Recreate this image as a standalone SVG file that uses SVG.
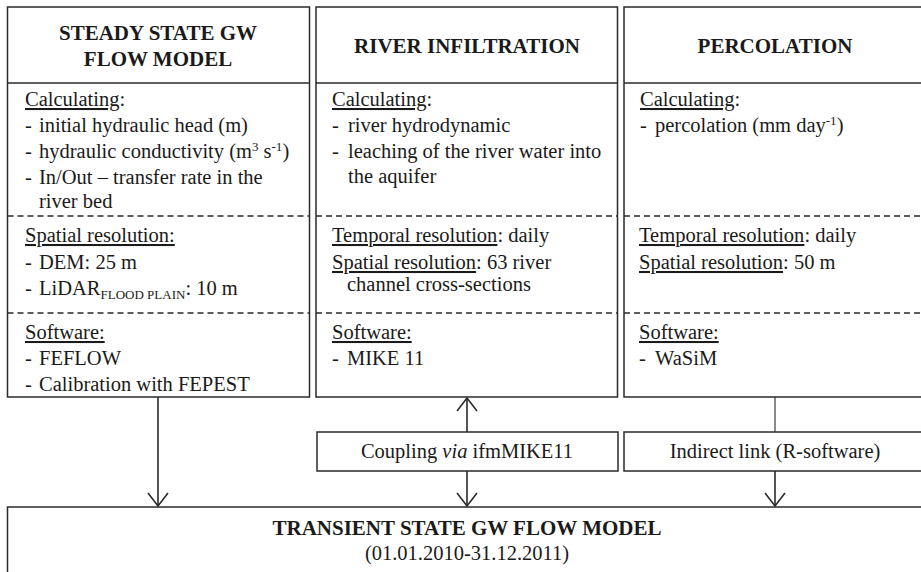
<svg xmlns="http://www.w3.org/2000/svg" width="921" height="572" viewBox="0 0 921 572">
<style>
.box{fill:#fff;stroke:#2a2a2a;stroke-width:1.5}
.sep{stroke:#2a2a2a;stroke-width:1.5}
.dash{stroke:#2a2a2a;stroke-width:1.3;stroke-dasharray:6,4}
text{font-family:"Liberation Serif","Times New Roman",serif;fill:#1a1a1a}
.h{font-size:21px;font-weight:bold;text-anchor:middle}
.b{font-size:20.5px}
.c{text-anchor:middle}
.u{text-decoration:underline}
.sup{font-size:13px}
.conn{stroke:#2a2a2a;stroke-width:1.6;fill:none}
.thin{stroke:#2a2a2a;stroke-width:1.1;fill:none}
</style>
<defs>
<marker id="arr" markerUnits="userSpaceOnUse" viewBox="-15 -12 17 24" refX="0" refY="0" markerWidth="17" markerHeight="24" orient="auto">
<path d="M-13,-10 L0,0 L-13,10" fill="none" stroke="#2a2a2a" stroke-width="1.6"/>
</marker>
</defs>

<g id="steady">
<rect class="box" x="7.5" y="7" width="302" height="390"/>
<line class="sep" x1="7.5" y1="83" x2="309.5" y2="83"/>
<line class="dash" x1="7.5" y1="216" x2="309.5" y2="216"/>
<line class="dash" x1="7.5" y1="313" x2="309.5" y2="313"/>
<text class="h" x="158" y="40">STEADY STATE GW</text>
<text class="h" x="158" y="66">FLOW MODEL</text>
<text class="b" x="25" y="106"><tspan class="u">Calculating</tspan>:</text>
<text class="b" y="132"><tspan x="25">-</tspan><tspan x="39">initial hydraulic head (m)</tspan></text>
<text class="b" y="158"><tspan x="25">-</tspan><tspan x="39">hydraulic conductivity (m</tspan><tspan class="sup" dy="-7">3</tspan><tspan dy="7"> s</tspan><tspan class="sup" dy="-7">-1</tspan><tspan dy="7">)</tspan></text>
<text class="b" y="184"><tspan x="25">-</tspan><tspan x="39">In/Out – transfer rate in the</tspan></text>
<text class="b" x="39" y="208">river bed</text>
<text class="b" x="25" y="242"><tspan class="u">Spatial resolution:</tspan></text>
<text class="b" y="269"><tspan x="25">-</tspan><tspan x="39">DEM: 25 m</tspan></text>
<text class="b" y="295"><tspan x="25">-</tspan><tspan x="39">LiDAR</tspan><tspan class="sup" dy="4">FLOOD PLAIN</tspan><tspan dy="-4">: 10 m</tspan></text>
<text class="b" x="25" y="339"><tspan class="u">Software:</tspan></text>
<text class="b" y="365"><tspan x="25">-</tspan><tspan x="39">FEFLOW</tspan></text>
<text class="b" y="391"><tspan x="25">-</tspan><tspan x="39">Calibration with FEPEST</tspan></text>
</g>

<g id="river">
<rect class="box" x="316" y="7" width="301.5" height="390"/>
<line class="sep" x1="316" y1="83" x2="617.5" y2="83"/>
<line class="dash" x1="316" y1="216" x2="617.5" y2="216"/>
<line class="dash" x1="316" y1="313" x2="617.5" y2="313"/>
<text class="h" x="467" y="53">RIVER INFILTRATION</text>
<text class="b" x="332" y="106"><tspan class="u">Calculating</tspan>:</text>
<text class="b" y="132"><tspan x="332">-</tspan><tspan x="348">river hydrodynamic</tspan></text>
<text class="b" y="158"><tspan x="332">-</tspan><tspan x="348">leaching of the river water into</tspan></text>
<text class="b" x="348" y="183">the aquifer</text>
<text class="b" x="332" y="242"><tspan class="u">Temporal resolution</tspan>: daily</text>
<text class="b" x="332" y="269"><tspan class="u">Spatial resolution</tspan>: 63 river</text>
<text class="b" x="347" y="291">channel cross-sections</text>
<text class="b" x="332" y="339"><tspan class="u">Software:</tspan></text>
<text class="b" y="365"><tspan x="332">-</tspan><tspan x="347">MIKE 11</tspan></text>
</g>

<g id="percolation">
<rect class="box" x="624" y="7" width="310" height="390"/>
<line class="sep" x1="624" y1="83" x2="934" y2="83"/>
<line class="dash" x1="624" y1="216" x2="934" y2="216"/>
<line class="dash" x1="624" y1="313" x2="934" y2="313"/>
<text class="h" x="775" y="53">PERCOLATION</text>
<text class="b" x="640" y="106"><tspan class="u">Calculating</tspan>:</text>
<text class="b" y="132"><tspan x="640">-</tspan><tspan x="655">percolation (mm day</tspan><tspan class="sup" dy="-7">-1</tspan><tspan dy="7">)</tspan></text>
<text class="b" x="639" y="242"><tspan class="u">Temporal resolution</tspan>: daily</text>
<text class="b" x="639" y="269"><tspan class="u">Spatial resolution</tspan>: 50 m</text>
<text class="b" x="639" y="339"><tspan class="u">Software:</tspan></text>
<text class="b" y="365"><tspan x="639">-</tspan><tspan x="655">WaSiM</tspan></text>
</g>

<g id="coupling">
<rect class="box" x="317" y="432" width="301" height="39"/>
<text class="b c" x="467" y="458">Coupling <tspan font-style="italic">via</tspan> ifmMIKE11</text>
</g>

<g id="indirect">
<rect class="box" x="624" y="432" width="310" height="39"/>
<text class="b c" x="775" y="458">Indirect link (R-software)</text>
</g>

<g id="transient">
<rect class="box" x="7.5" y="507" width="930" height="100"/>
<text class="h" x="467" y="535">TRANSIENT STATE GW FLOW MODEL</text>
<text class="b c" x="467" y="560">(01.01.2010-31.12.2011)</text>
</g>

<g id="connectors">
<line class="conn" x1="158" y1="397" x2="158" y2="506" marker-end="url(#arr)"/>
<line class="conn" x1="467" y1="432" x2="467" y2="398" marker-end="url(#arr)"/>
<line class="conn" x1="467" y1="471" x2="467" y2="506" marker-end="url(#arr)"/>
<line class="thin" x1="775" y1="397" x2="775" y2="432"/>
<line class="conn" x1="775" y1="471" x2="775" y2="506" marker-end="url(#arr)"/>
</g>
</svg>
